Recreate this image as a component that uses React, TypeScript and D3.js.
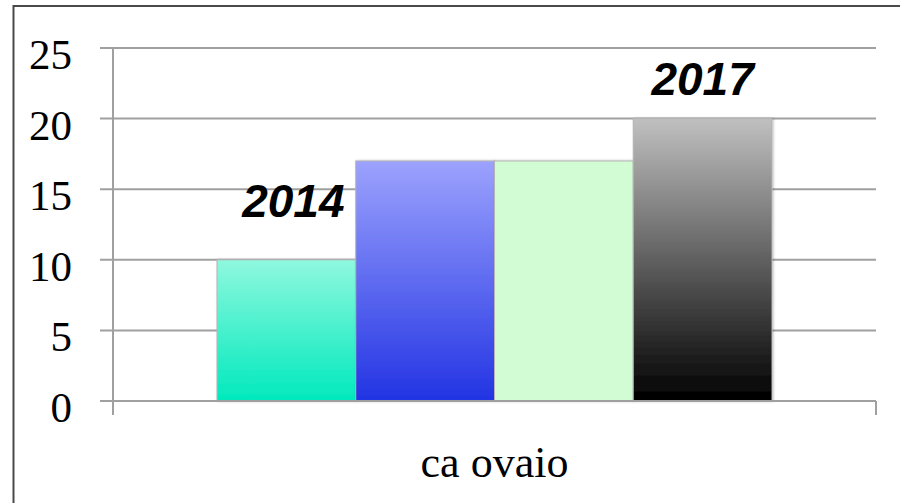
import React from "react";
import * as d3 from "d3";

const categories = ["ca ovaio"];
const seriesNames = ["2014", "2015", "2016", "2017"];
const seriesValues = [10, 17, 17, 20];
const yTicks = [0, 5, 10, 15, 20, 25];
const annotations = [
  { text: "2014", series: "2014", value: 13.0, dx: 7 },
  { text: "2017", series: "2017", value: 21.67, dx: 0 },
];
const gradients = [
  { top: "#8ff8de", bottom: "#00e9bd" },
  { top: "#9ca2fd", bottom: "#2234e3" },
  { top: "#d2fcd4", bottom: "#d2fcd4" },
  { top: "#c0c0c0", bottom: "#000000" },
];

const W = 900;
const H = 503;
const plotLeft = 113;
const plotRight = 876;
const plotTop = 48;
const plotBottom = 401;

export default function App() {
  const y = d3.scaleLinear().domain([0, 25]).range([plotBottom, plotTop]);
  const x0 = d3
    .scaleBand<string>()
    .domain(categories)
    .range([plotLeft, plotRight])
    .paddingInner(0)
    .paddingOuter(0.1874);
  const x1 = d3
    .scaleBand<string>()
    .domain(seriesNames)
    .range([0, x0.bandwidth()])
    .padding(0);
  const cat = categories[0];
  const gridColor = "#a0a0a0";

  return (
    <svg
      width={W}
      height={H}
      style={{ position: "absolute", left: 0, top: 0, background: "#fff" }}
    >
      <defs>
        {gradients.map((g, i) => (
          <linearGradient key={i} id={`g${i}`} x1="0" y1="0" x2="0" y2="1">
            <stop offset="0%" stopColor={g.top} />
            <stop offset="100%" stopColor={g.bottom} />
          </linearGradient>
        ))}
        <filter id="sh" x="-10%" y="-10%" width="120%" height="120%">
          <feDropShadow dx="1" dy="0" stdDeviation="1" floodColor="#000" floodOpacity="0.25" />
        </filter>
      </defs>
      <rect x={13.5} y={6} width={W} height={H} fill="none" stroke="#4a4a4a" strokeWidth={2} />

      {yTicks.map((t) => (
        <g key={t}>
          <line
            x1={plotLeft - 13}
            x2={plotRight}
            y1={y(t)}
            y2={y(t)}
            stroke={gridColor}
            strokeWidth={2}
          />
          <text
            x={72}
            y={y(t) + 21}
            textAnchor="end"
            fontFamily="'Liberation Serif', 'Times New Roman', serif"
            fontSize={43}
            fill="#000"
          >
            {t}
          </text>
        </g>
      ))}
      <line x1={plotLeft} x2={plotLeft} y1={plotTop} y2={plotBottom + 14} stroke={gridColor} strokeWidth={2} />
      <line x1={plotRight} x2={plotRight} y1={plotBottom} y2={plotBottom + 14} stroke={gridColor} strokeWidth={2} />

      {seriesNames.map((s, i) => {
        const bx = (x0(cat) ?? 0) + (x1(s) ?? 0);
        const by = y(seriesValues[i]);
        return (
          <rect
            key={s}
            x={bx}
            y={by}
            width={x1.bandwidth()}
            height={plotBottom - by}
            fill={`url(#g${i})`}
            stroke="#b5b5b5"
            strokeWidth={1}
            filter="url(#sh)"
          />
        );
      })}
      <line x1={plotLeft} x2={plotRight} y1={plotBottom} y2={plotBottom} stroke={gridColor} strokeWidth={2} />

      {annotations.map((a) => {
        const cx = (x0(cat) ?? 0) + (x1(a.series) ?? 0) + x1.bandwidth() / 2 + a.dx;
        return (
          <text
            key={a.text}
            x={cx}
            y={y(a.value)}
            textAnchor="middle"
            fontFamily="'Liberation Sans', Arial, sans-serif"
            fontWeight="bold"
            fontStyle="italic"
            fontSize={46}
            fill="#000"
          >
            {a.text}
          </text>
        );
      })}

      <text
        x={(x0(cat) ?? 0) + x0.bandwidth() / 2 + 0}
        y={477}
        textAnchor="middle"
        fontFamily="'Liberation Serif', 'Times New Roman', serif"
        fontSize={44}
        fill="#000"
      >
        {cat}
      </text>
    </svg>
  );
}
